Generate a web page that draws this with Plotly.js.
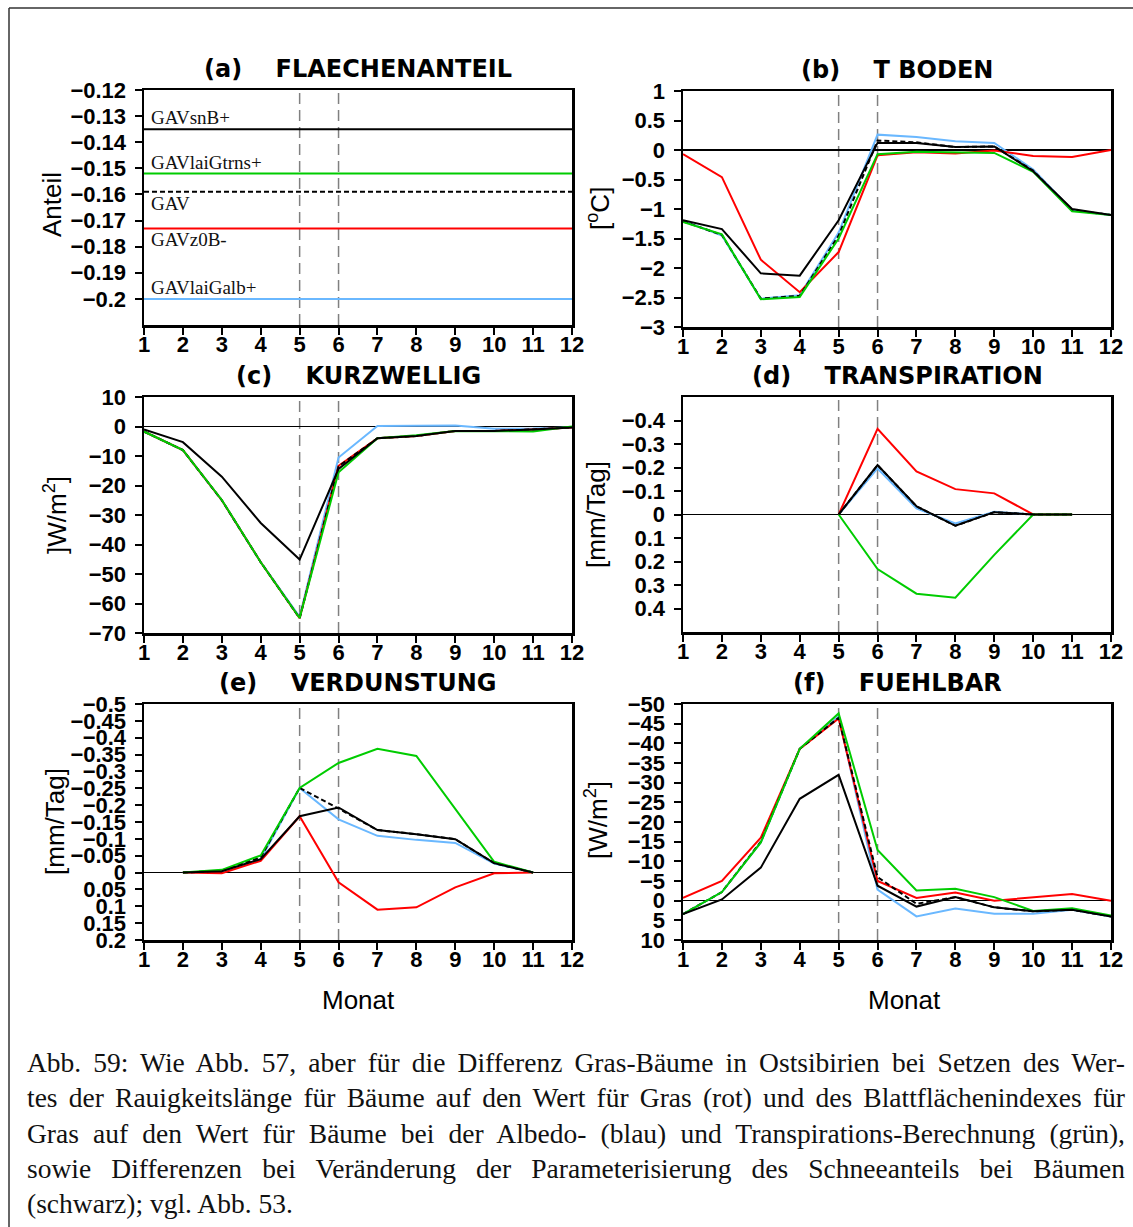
<!DOCTYPE html>
<html>
<head>
<meta charset="utf-8">
<script src="https://cdn.plot.ly/plotly-3.0.1.min.js"></script>
<style>
  html, body { margin: 0; padding: 0; background: #fff; }
  #wrap { position: relative; width: 1133px; height: 1227px; overflow: hidden; }
  #chart { position: absolute; left: 0; top: 0; width: 1133px; height: 1227px; }
  #caption { position: absolute; left: 27px; top: 1045px; width: 1098px;
             font-family: 'Liberation Serif', 'Times New Roman', serif; font-size: 27.5px; color: #111; }
  #caption div { height: 35.3px; line-height: 35.3px; white-space: nowrap; text-align: justify; text-align-last: justify; }
  #caption div.last { text-align-last: left; }
</style>
</head>
<body>
<div id="wrap">
  <div id="chart"></div>
  <div id="caption"></div>
</div>
<script>
// ---------------- DATA ----------------
const months = [1, 2, 3, 4, 5, 6, 7, 8, 9, 10, 11, 12];
const monthLabels = ['1','2','3','4','5','6','7','8','9','10','11','12'];
const markerMonths = [5, 6];

// (a) FLAECHENANTEIL
const aNames = ['GAVsnB+', 'GAVlaiGtrns+', 'GAV', 'GAVz0B-', 'GAVlaiGalb+'];
const aBlack = [-0.135, -0.135, -0.135, -0.135, -0.135, -0.135, -0.135, -0.135, -0.135, -0.135, -0.135, -0.135];
const aGreen = [-0.152, -0.152, -0.152, -0.152, -0.152, -0.152, -0.152, -0.152, -0.152, -0.152, -0.152, -0.152];
const aDash  = [-0.159, -0.159, -0.159, -0.159, -0.159, -0.159, -0.159, -0.159, -0.159, -0.159, -0.159, -0.159];
const aRed   = [-0.173, -0.173, -0.173, -0.173, -0.173, -0.173, -0.173, -0.173, -0.173, -0.173, -0.173, -0.173];
const aBlue  = [-0.200, -0.200, -0.200, -0.200, -0.200, -0.200, -0.200, -0.200, -0.200, -0.200, -0.200, -0.200];
const aTickVals = [-0.2, -0.19, -0.18, -0.17, -0.16, -0.15, -0.14, -0.13, -0.12];
const aTickText = ['\u22120.2', '\u22120.19', '\u22120.18', '\u22120.17', '\u22120.16', '\u22120.15', '\u22120.14', '\u22120.13', '\u22120.12'];

// (b) T BODEN
const bRed   = [-0.07, -0.46, -1.86, -2.41, -1.73, -0.09, -0.04, -0.06, -0.01, -0.10, -0.12, 0.00];
const bBlack = [-1.19, -1.34, -2.09, -2.13, -1.19, 0.12, 0.12, 0.05, 0.06, -0.36, -1.00, -1.10];
const bBlue  = [-1.20, -1.45, -2.52, -2.46, -1.40, 0.26, 0.22, 0.15, 0.12, -0.33, -1.02, -1.10];
const bGreen = [-1.22, -1.43, -2.53, -2.49, -1.50, -0.07, -0.03, -0.04, -0.05, -0.37, -1.04, -1.10];
const bDash  = [-1.21, -1.44, -2.52, -2.47, -1.45, 0.16, 0.13, 0.05, 0.06, -0.35, -1.02, -1.10];
const bTickVals = [-3, -2.5, -2, -1.5, -1, -0.5, 0, 0.5, 1];
const bTickText = ['\u22123', '\u22122.5', '\u22122', '\u22121.5', '\u22121', '\u22120.5', '0', '0.5', '1'];

// (c) KURZWELLIG
const cRed   = [-1.7, -8.0, -25.0, -46.0, -65.0, -13.3, -4.0, -3.2, -1.5, -1.5, -1.0, -0.3];
const cBlack = [-1.0, -5.3, -17.0, -32.7, -45.1, -14.4, -4.0, -3.2, -1.5, -1.5, -1.0, -0.3];
const cBlue  = [-1.7, -8.0, -25.0, -46.0, -64.5, -10.5, 0.2, 0.3, 0.3, -0.8, -0.7, -0.3];
const cGreen = [-1.7, -8.0, -24.9, -46.0, -64.9, -15.5, -4.0, -3.0, -1.5, -1.7, -1.7, 0.0];
const cDash  = [-1.7, -8.0, -25.0, -46.0, -65.0, -13.5, -4.0, -3.2, -1.5, -1.5, -1.0, -0.3];
const cTickVals = [-70, -60, -50, -40, -30, -20, -10, 0, 10];
const cTickText = ['\u221270', '\u221260', '\u221250', '\u221240', '\u221230', '\u221220', '\u221210', '0', '10'];

// (d) TRANSPIRATION
const dRed   = [null, null, null, null, 0, -0.365, -0.183, -0.108, -0.090, 0, 0, null];
const dBlack = [null, null, null, null, 0, -0.210, -0.035, 0.048, -0.010, 0, 0, null];
const dBlue  = [null, null, null, null, 0, -0.196, -0.026, 0.038, -0.012, 0, 0, null];
const dGreen = [null, null, null, null, 0, 0.232, 0.337, 0.354, 0.172, 0, 0, null];
const dDash  = [null, null, null, null, 0, -0.210, -0.035, 0.048, -0.010, 0, 0, null];
const dTickVals = [-0.4, -0.3, -0.2, -0.1, 0, 0.1, 0.2, 0.3, 0.4];
const dTickText = ['\u22120.4', '\u22120.3', '\u22120.2', '\u22120.1', '0', '0.1', '0.2', '0.3', '0.4'];

// (e) VERDUNSTUNG
const eRed   = [null, 0, 0.002, -0.035, -0.167, 0.029, 0.110, 0.103, 0.044, 0.002, 0, null];
const eBlack = [null, 0, -0.004, -0.040, -0.167, -0.193, -0.126, -0.114, -0.099, -0.028, 0, null];
const eBlue  = [null, 0, -0.005, -0.040, -0.251, -0.158, -0.109, -0.097, -0.088, -0.027, 0, null];
const eGreen = [null, 0, -0.008, -0.051, -0.251, -0.325, -0.367, -0.346, -0.190, -0.032, 0, null];
const eDash  = [null, 0, -0.006, -0.045, -0.251, -0.190, -0.126, -0.114, -0.099, -0.028, 0, null];
const eTickVals = [-0.5, -0.45, -0.4, -0.35, -0.3, -0.25, -0.2, -0.15, -0.1, -0.05, 0, 0.05, 0.1, 0.15, 0.2];
const eTickText = ['\u22120.5', '\u22120.45', '\u22120.4', '\u22120.35', '\u22120.3', '\u22120.25', '\u22120.2', '\u22120.15', '\u22120.1', '\u22120.05', '0', '0.05', '0.1', '0.15', '0.2'];

// (f) FUEHLBAR
const fRed   = [-0.7, -5.0, -16.0, -38.6, -46.3, -5.0, -0.7, -2.1, 0.0, -0.9, -1.7, 0.0];
const fBlack = [3.4, -0.3, -8.4, -25.9, -32.0, -3.8, 1.5, -0.9, 1.7, 2.7, 2.3, 4.0];
const fBlue  = [3.4, -2.2, -14.8, -38.6, -46.8, -2.8, 4.0, 2.0, 3.3, 3.3, 2.3, 4.0];
const fGreen = [3.4, -2.2, -14.8, -38.6, -47.6, -12.9, -2.6, -3.0, -0.9, 2.6, 1.9, 3.8];
const fDash  = [3.4, -2.2, -15.0, -38.6, -46.5, -6.0, 0.8, -0.9, 1.7, 2.7, 2.3, 4.0];
const fTickVals = [-50, -45, -40, -35, -30, -25, -20, -15, -10, -5, 0, 5, 10];
const fTickText = ['\u221250', '\u221245', '\u221240', '\u221235', '\u221230', '\u221225', '\u221220', '\u221215', '\u221210', '\u22125', '0', '5', '10'];

const panelTitles = ['(a)\u00A0\u00A0\u00A0\u00A0FLAECHENANTEIL', '(b)\u00A0\u00A0\u00A0\u00A0T\u00A0BODEN',
                     '(c)\u00A0\u00A0\u00A0\u00A0KURZWELLIG', '(d)\u00A0\u00A0\u00A0\u00A0TRANSPIRATION',
                     '(e)\u00A0\u00A0\u00A0\u00A0VERDUNSTUNG', '(f)\u00A0\u00A0\u00A0\u00A0FUEHLBAR'];
const yTitles = ['Anteil', '[<sup>o</sup>C]', ']W/m<sup>2</sup>]', '[mm/Tag]', '[mm/Tag]', '[W/m<sup>2</sup>]'];
const xTitle = 'Monat';

const captionLines = [
  'Abb. 59: Wie Abb. 57, aber f\u00fcr die Differenz Gras-B\u00e4ume in Ostsibirien bei Setzen des Wer-',
  'tes der Rauigkeitsl\u00e4nge f\u00fcr B\u00e4ume auf den Wert f\u00fcr Gras (rot) und des Blattfl\u00e4chenindexes f\u00fcr',
  'Gras auf den Wert f\u00fcr B\u00e4ume bei der Albedo- (blau) und Transpirations-Berechnung (gr\u00fcn),',
  'sowie Differenzen bei Ver\u00e4nderung der Parameterisierung des Schneeanteils bei B\u00e4umen',
  '(schwarz); vgl. Abb. 53.'
];

// ---------------- STYLE / LAYOUT ----------------
const W = 1133, H = 1227;
const COL = { red: '#ff0000', black: '#000000', blue: '#6ab8ff', green: '#00cc00', dash: '#000000' };
const px = v => v / W;
const py = v => 1 - v / H;

const panels = [
  { series: [aBlue, aRed, aDash, aGreen, aBlack], range: [-0.21, -0.12], tv: aTickVals, tt: aTickText, xd: [144, 572], yd: [90, 325], zero: false },
  { series: [bBlue, bRed, bDash, bGreen, bBlack], range: [-3, 1], tv: bTickVals, tt: bTickText, xd: [683, 1111], yd: [91, 327], zero: true },
  { series: [cBlue, cRed, cDash, cGreen, cBlack], range: [-70, 10], tv: cTickVals, tt: cTickText, xd: [144, 572], yd: [397, 633], zero: true },
  { series: [dBlue, dRed, dDash, dGreen, dBlack], range: [0.5, -0.5], tv: dTickVals, tt: dTickText, xd: [683, 1111], yd: [397, 632], zero: true },
  { series: [eBlue, eRed, eDash, eGreen, eBlack], range: [0.2, -0.5], tv: eTickVals, tt: eTickText, xd: [144, 572], yd: [704, 940], zero: true },
  { series: [fBlue, fRed, fDash, fGreen, fBlack], range: [10, -50], tv: fTickVals, tt: fTickText, xd: [683, 1111], yd: [704, 940], zero: true }
];
const seriesStyle = [
  { color: COL.blue, dash: 'solid' },
  { color: COL.red, dash: 'solid' },
  { color: COL.dash, dash: '5px,3px' },
  { color: COL.green, dash: 'solid' },
  { color: COL.black, dash: 'solid' }
];

const tickFont = { family: 'Liberation Sans, Arial, sans-serif', size: 22, color: '#000', weight: 'bold' };
const titleFont = { family: 'DejaVu Sans, sans-serif', size: 24, color: '#000', weight: 'bold' };
const axTitleFont = { family: 'Liberation Sans, Arial, sans-serif', size: 26, color: '#000' };

const traces = [];
const layout = {
  width: W, height: H,
  margin: { l: 0, r: 0, t: 0, b: 0 },
  paper_bgcolor: '#ffffff', plot_bgcolor: '#ffffff',
  showlegend: false,
  annotations: [], shapes: []
};

panels.forEach((p, i) => {
  const n = i + 1;
  const xa = 'xaxis' + (n === 1 ? '' : n), ya = 'yaxis' + (n === 1 ? '' : n);
  const xr = 'x' + (n === 1 ? '' : n), yr = 'y' + (n === 1 ? '' : n);
  p.series.forEach((s, k) => {
    traces.push({
      type: 'scatter', mode: 'lines', x: months, y: s, xaxis: xr, yaxis: yr,
      line: { color: seriesStyle[k].color, width: 2, dash: seriesStyle[k].dash },
      connectgaps: false, hoverinfo: 'skip'
    });
  });
  layout[xa] = {
    domain: [px(p.xd[0]), px(p.xd[1])], anchor: yr, range: [1, 12],
    tickvals: months, ticktext: monthLabels,
    showline: true, mirror: true, linewidth: 2.5, linecolor: '#000',
    ticks: 'outside', ticklen: 7, tickwidth: 2, tickcolor: '#000',
    showgrid: false, zeroline: false, tickfont: tickFont, ticklabelstandoff: -9, fixedrange: true
  };
  layout[ya] = {
    domain: [py(p.yd[1]), py(p.yd[0])], anchor: xr, range: p.range,
    tickvals: p.tv, ticktext: p.tt,
    showline: true, mirror: true, linewidth: 2.5, linecolor: '#000',
    ticks: 'outside', ticklen: 7, tickwidth: 2, tickcolor: '#000',
    showgrid: false, zeroline: p.zero, zerolinecolor: '#000', zerolinewidth: 1.6,
    tickfont: tickFont, ticklabelstandoff: 4, fixedrange: true
  };
  markerMonths.forEach(m => {
    layout.shapes.push({ type: 'line', xref: xr, yref: yr + ' domain', x0: m, x1: m, y0: 0, y1: 1,
      line: { color: '#808080', width: 1.5, dash: '11px,6px' }, layer: 'below' });
  });
  // panel title
  layout.annotations.push({ xref: 'paper', yref: 'paper', x: px((p.xd[0] + p.xd[1]) / 2), y: py(p.yd[0] - 21),
    xanchor: 'center', yanchor: 'middle', text: panelTitles[i], showarrow: false, font: titleFont });
});

// y axis titles
const yTitlePos = [[52, 205], [598, 208], [55, 515], [596, 515], [55, 822], [596, 820]];
yTitles.forEach((t, i) => {
  layout.annotations.push({ xref: 'paper', yref: 'paper', x: px(yTitlePos[i][0]), y: py(yTitlePos[i][1]),
    xanchor: 'center', yanchor: 'middle', textangle: -90, text: t, showarrow: false, font: axTitleFont });
});
// x axis titles
[358, 905].forEach(cx => {
  layout.annotations.push({ xref: 'paper', yref: 'paper', x: px(cx), y: py(1000),
    xanchor: 'center', yanchor: 'middle', text: xTitle, showarrow: false, font: axTitleFont });
});

// panel (a) series labels
const aVals = [aBlack[0], aGreen[0], aDash[0], aRed[0], aBlue[0]];
const aAbove = [true, true, false, false, true];
aNames.forEach((name, k) => {
  layout.annotations.push({ xref: 'x', yref: 'y', x: 1, y: aVals[k], xanchor: 'left',
    yanchor: aAbove[k] ? 'bottom' : 'top', xshift: 5, yshift: aAbove[k] ? -1 : 1,
    text: name, showarrow: false,
    font: { family: 'Liberation Serif, Times New Roman, serif', size: 19, color: '#111' } });
});

// outer frame
layout.shapes.push({ type: 'line', xref: 'paper', yref: 'paper', x0: px(9), x1: px(9), y0: py(8), y1: -0.1,
  line: { color: '#333', width: 1.5 } });
layout.shapes.push({ type: 'line', xref: 'paper', yref: 'paper', x0: px(9), x1: 1.1, y0: py(8), y1: py(8),
  line: { color: '#333', width: 1.5 } });

Plotly.newPlot('chart', traces, layout, { staticPlot: true, displayModeBar: false });

// caption
const cap = document.getElementById('caption');
captionLines.forEach((line, i) => {
  const d = document.createElement('div');
  d.textContent = line;
  if (i === captionLines.length - 1) d.className = 'last';
  cap.appendChild(d);
});
</script>
</body>
</html>
